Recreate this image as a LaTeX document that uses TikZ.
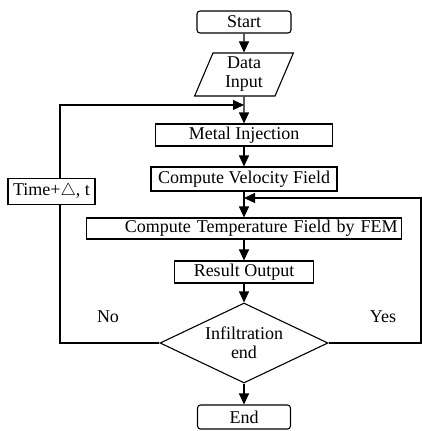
\documentclass[tikz,border=0pt]{standalone}
\usepackage{fontspec}
\setmainfont{Liberation Serif}
\usetikzlibrary{positioning, arrows.meta, shapes.geometric}

\begin{document}
\begin{tikzpicture}[
        x=1pt, y=1pt,
        font=\fontsize{18}{19}\selectfont,
        box/.style={draw, rectangle, line width=1.1pt, minimum height=22pt, inner sep=1pt, align=center},
        term/.style={box, rounded corners=3pt},
        io/.style={draw, trapezium, trapezium left angle=72, trapezium right angle=108, trapezium stretches=true, line width=1.1pt, minimum width=99pt, minimum height=43pt, inner sep=0pt, align=center},
        decision/.style={draw, diamond, aspect=2.1, line width=1.1pt, minimum width=168pt, minimum height=80pt, inner sep=0pt, align=center},
        arrow/.style={-{Triangle[length=11pt, width=10pt]}, line width=1.1pt},
        line/.style={line width=1.1pt}
    ]
    \useasboundingbox (0,0) rectangle (422,-431);

    \node[term, minimum width=94pt] (Start) at (244,-22) {Start};
    \node[io] (Data) at (244,-74.5) {Data\\Input};
    \node[box, minimum width=177pt] (Inject) at (244,-135) {Metal Injection};
    \node[box, minimum width=186pt, minimum height=24pt] (Velo) at (244,-179) {Compute Velocity Field};
    \node[box, minimum width=315pt, minimum height=21pt, text width=307pt, align=right] (Temp) at (244,-228.5) {Compute Temperature Field by FEM};
    \node[box, minimum width=139pt] (Result) at (244,-272) {Result Output};
    \node[decision] (Infil) at (244,-343) {Infiltration\\end};
    \node[term, minimum width=93pt, minimum height=24pt] (End) at (244,-417) {End};

    \node[box, minimum width=87pt, minimum height=26pt] (Time) at (51.5,-191.5) {Time+$\triangle$, t};
    \node (No) at (108,-317) {No};
    \node (Yes) at (383,-317) {Yes};

    \coordinate (NoCorner) at (60,-343);
    \coordinate (LoopTop) at (60,-105);
    \coordinate (YesCorner) at (421,-343);
    \coordinate (FeedBack) at (421,-198);

    \draw[arrow] (Start) -- (Data);
    \draw[arrow] (Data) -- (Inject);
    \draw[arrow] (Inject) -- (Velo);
    \draw[arrow] (Velo) -- (Velo |- Temp.north);
    \draw[arrow] (Temp.south -| Result) -- (Result);
    \draw[arrow] (Result) -- (Infil);
    \draw[arrow] (Infil) -- (End);

    \draw[line] (Infil) -- (NoCorner) -- (NoCorner |- Time.south);
    \draw[arrow] (NoCorner |- Time.north) -- (LoopTop) -- (LoopTop -| Data.south);
    \draw[arrow] (Infil) -- (YesCorner) -- (FeedBack) -- (FeedBack -| Velo.south);

\end{tikzpicture}
\end{document}
